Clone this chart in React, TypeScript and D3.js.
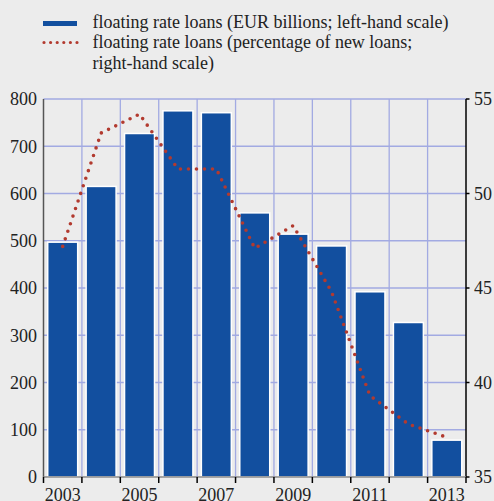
import * as d3 from 'd3';

const years = ['2003', '2004', '2005', '2006', '2007', '2008', '2009', '2010', '2011', '2012', '2013'];
const loansEur = [497, 615, 727, 775, 771, 559, 514, 489, 392, 327, 78];
const loansPct = [47.2, 53.2, 54.2, 51.3, 51.3, 47.1, 48.3, 44.8, 39.3, 37.8, 37.1];
const leftTicks = [0, 100, 200, 300, 400, 500, 600, 700, 800];
const rightTicks = [35, 40, 45, 50, 55];
const yearLabels = ['2003', '2005', '2007', '2009', '2011', '2013'];
const legendLines = [
  'floating rate loans (EUR billions; left-hand scale)',
  'floating rate loans (percentage of new loans;',
  'right-hand scale)',
];

const W = 494;
const H = 501;
const BG = '#ececec';
const BLUE = '#124f9f';
const RED = '#b23a2f';
const GRID = '#a2aae2';
const txt = { fontFamily: "'Liberation Serif'", fontSize: '18px' };

export default function App() {
  const plot = { left: 43.5, right: 466, top: 99, bottom: 477 };

  const x = d3.scaleBand<string>()
    .domain(years)
    .range([plot.left, plot.right])
    .paddingInner(0.22)
    .paddingOuter(0.11);
  const step = x.step();
  const yL = d3.scaleLinear().domain([0, 800]).range([plot.bottom, plot.top]);
  const yR = d3.scaleLinear().domain([35, 55]).range([plot.bottom, plot.top]);

  const cx = (y: string) => (x(y) || 0) + x.bandwidth() / 2;
  const line = d3.line<number>()
    .x((_, i) => cx(years[i]))
    .y(d => yR(d));

  // boundaries between years (gridlines and x ticks)
  const bounds = d3.range(years.length + 1).map(i => plot.left + i * step);

  return (
    <svg width={W} height={H} style={{ position: 'fixed', left: 0, top: 0 }}>
      <rect width={W} height={H} fill={BG} />

      {/* legend */}
      <rect x={43} y={21} width={34} height={5} fill={BLUE} />
      <line x1={44} x2={77} y1={42.5} y2={42.5} stroke={RED} strokeWidth={3.2}
        strokeLinecap="round" strokeDasharray="0 6.6" />
      {legendLines.map((t, i) => (
        <text key={i} x={92.5} y={28 + i * 20.3} style={txt} fill="#222">{t}</text>
      ))}

      {/* gridlines */}
      {leftTicks.filter(t => t > 0).map(t => (
        <line key={`h${t}`} x1={plot.left} x2={plot.right} y1={yL(t)} y2={yL(t)} stroke={GRID} strokeWidth={1.3} />
      ))}
      {bounds.slice(1, -1).map((b, i) => (
        <line key={`v${i}`} x1={b} x2={b} y1={plot.top} y2={plot.bottom} stroke={GRID} strokeWidth={1.3} />
      ))}

      {/* bars */}
      {loansEur.map((v, i) => (
        <rect key={years[i]} x={x(years[i])} y={yL(v)} width={x.bandwidth()} height={yL(0) - yL(v)}
          fill={BLUE} stroke="#fff" strokeWidth={1.5} />
      ))}

      {/* dotted line */}
      <path d={line(loansPct) || ''} fill="none" stroke={RED} strokeWidth={3.6}
        strokeLinecap="round" strokeDasharray="0 8" />

      {/* left axis */}
      <line x1={plot.left} x2={plot.left} y1={plot.top} y2={plot.bottom} stroke="#555" strokeWidth={1.5} />
      {leftTicks.map(t => (
        <text key={`l${t}`} x={37} y={yL(t)} dy="0.35em" textAnchor="end" style={txt} fill="#222">{t}</text>
      ))}

      {/* right axis */}
      <line x1={plot.right} x2={plot.right} y1={plot.top} y2={plot.bottom} stroke="#000" strokeWidth={1.5} />
      {rightTicks.map(t => (
        <g key={`r${t}`}>
          <line x1={plot.right} x2={plot.right + 3.5} y1={yR(t)} y2={yR(t)} stroke="#000" strokeWidth={1.5} />
          <text x={474} y={yR(t)} dy="0.35em" style={txt} fill="#222">{t}</text>
        </g>
      ))}

      {/* x axis */}
      <line x1={plot.left} x2={plot.right} y1={plot.bottom} y2={plot.bottom} stroke="#888" strokeWidth={1.5} />
      {bounds.map((b, i) => (
        <line key={`xt${i}`} x1={b} x2={b} y1={plot.bottom} y2={plot.bottom + 6} stroke="#000" strokeWidth={1.5} />
      ))}
      {yearLabels.map(y => (
        <text key={`x${y}`} x={cx(y)} y={500.5} textAnchor="middle" style={txt} fill="#222">{y}</text>
      ))}
    </svg>
  );
}
